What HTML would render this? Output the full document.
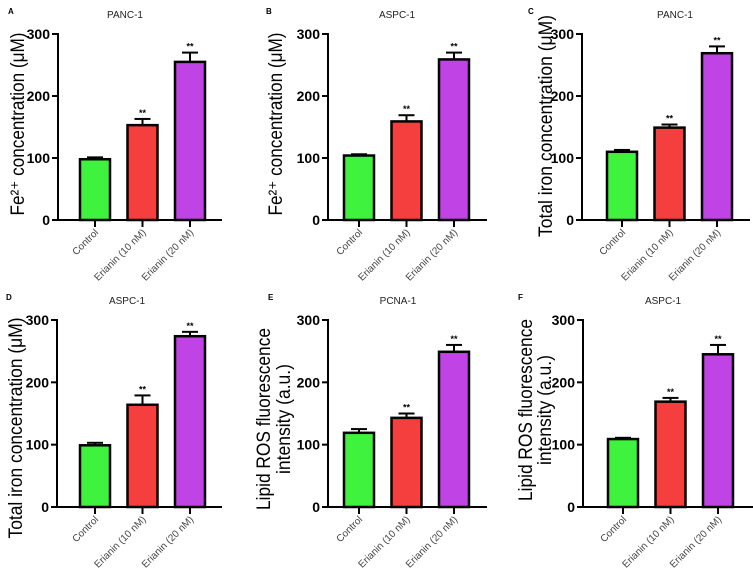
<!DOCTYPE html>
<html><head><meta charset="utf-8"><style>
body{margin:0;background:#fff}
svg{display:block;font-family:"Liberation Sans",Arial,sans-serif}
</style></head><body>
<svg id="fig" width="753" height="575" viewBox="0 0 753 575" xmlns="http://www.w3.org/2000/svg"></svg>
<script>
const categories = ["Control","Erianin (10 nM)","Erianin (20 nM)"];
const colors = ["#3ef23e","#f53f3f","#c043e6"];
const tickValues = [0,100,200,300];
const valuesA = [98,153,255];   const errA = [3,10,15];
const valuesB = [104,159,259];  const errB = [2,10,11];
const valuesC = [110,149,269];  const errC = [3,5,11];
const valuesD = [99,164,274];   const errD = [4,15,7];
const valuesE = [119,143,249];  const errE = [6,7,11];
const valuesF = [109,169,245];  const errF = [2,6,15];
const titles = ["PANC-1","ASPC-1","PANC-1","ASPC-1","PCNA-1","ASPC-1"];
const letters = ["A","B","C","D","E","F"];

const panels = [
 {v:valuesA,e:errA,ax:58,end:222,b0:80,top:34,bot:220,tx:125,lx:8,ylab:["Fe²⁺ concentration (μM)"],ylx:[17],yly:124,ylen:[183]},
 {v:valuesB,e:errB,ax:328,end:487,b0:344,top:34,bot:220,tx:397,lx:266,ylab:["Fe²⁺ concentration (μM)"],ylx:[275],yly:124,ylen:[183]},
 {v:valuesC,e:errC,ax:582,end:750,b0:607,top:34,bot:220,tx:675,lx:528,ylab:["Total iron concentration (μM)"],ylx:[545],yly:126,ylen:[222]},
 {v:valuesD,e:errD,ax:57,end:222,b0:80,top:320,bot:507,tx:127,lx:6,ylab:["Total iron concentration (μM)"],ylx:[15],yly:428,ylen:[221]},
 {v:valuesE,e:errE,ax:328,end:487,b0:344,top:320,bot:507,tx:398,lx:268,ylab:["Lipid ROS fluorescence","intensity (a.u.)"],ylx:[263,283],yly:419,ylen:[182,110]},
 {v:valuesF,e:errF,ax:583,end:753,b0:608,top:320,bot:507,tx:663,lx:518,ylab:["Lipid ROS fluorescence","intensity (a.u.)"],ylx:[525,544],yly:410,ylen:[182,110]}
];
const NS="http://www.w3.org/2000/svg";
const svg=document.getElementById('fig');
function mk(tag,attrs,parent,text){const el=document.createElementNS(NS,tag);for(const k in attrs)el.setAttribute(k,attrs[k]);if(text!==undefined)el.textContent=text;(parent||svg).appendChild(el);return el;}
panels.forEach((p,pi)=>{
  const g=mk('g',{});
  
  
  const y=v=>p.bot-(v/300)*(p.bot-p.top);
  const bw=30,pitch=47.5;
  const x=i=>p.b0+i*pitch;
  const L=mk('text',{x:p.lx,y:p.top-20,'font-size':8,'font-weight':'bold'},g,letters[pi]);
  
  
  const T=mk('text',{x:p.tx,y:p.top-16,'font-size':10,'text-anchor':'middle',fill:'#222'},g,titles[pi]);
  
  
  p.ylab.forEach((s,li)=>{
    const t=mk('text',{x:0,y:0,'font-size':19,'text-anchor':'middle',fill:'#000',textLength:p.ylen[li],lengthAdjust:'spacingAndGlyphs',transform:`translate(${p.ylx[li]+7},${p.yly}) rotate(-90)`},g,s);
    
    
  });
  tickValues.forEach(tv=>{
    mk('line',{x1:p.ax-6,x2:p.ax,y1:y(tv),y2:y(tv),stroke:'#000','stroke-width':2},g);
    const t=mk('text',{x:p.ax-8,y:y(tv)+5,'font-size':14,'font-weight':'bold','text-anchor':'end'},g,String(tv));
    
    
  });
  p.v.forEach((v,i)=>{
    const cx=x(i)+bw/2;
    const top=y(v+p.e[i]);
    mk('line',{x1:cx,x2:cx,y1:y(v),y2:top,stroke:'#000','stroke-width':2},g);
    mk('line',{x1:cx-8,x2:cx+8,y1:top,y2:top,stroke:'#000','stroke-width':2},g);
    const r=mk('rect',{x:x(i),y:y(v),width:bw,height:p.bot-y(v),fill:colors[i],stroke:'#000','stroke-width':2.5},g);
    
    
    if(i>0){
      const s=mk('text',{x:cx,y:top-3,'font-size':9,'font-weight':'bold','text-anchor':'middle'},g,'**');
      
      
    }
    mk('line',{x1:cx,x2:cx,y1:p.bot,y2:p.bot+7,stroke:'#000','stroke-width':2},g);
    const c=mk('text',{x:0,y:0,'font-size':10,fill:'#444','text-anchor':'end',transform:`translate(${cx+4},${p.bot+13}) rotate(-45)`},g,categories[i]);
    
    
  });
  mk('line',{x1:p.ax,x2:p.ax,y1:p.top-1,y2:p.bot+1,stroke:'#000','stroke-width':2},g);
  mk('line',{x1:p.ax,x2:p.end,y1:p.bot,y2:p.bot,stroke:'#000','stroke-width':2},g);
});
</script>
</body></html>
